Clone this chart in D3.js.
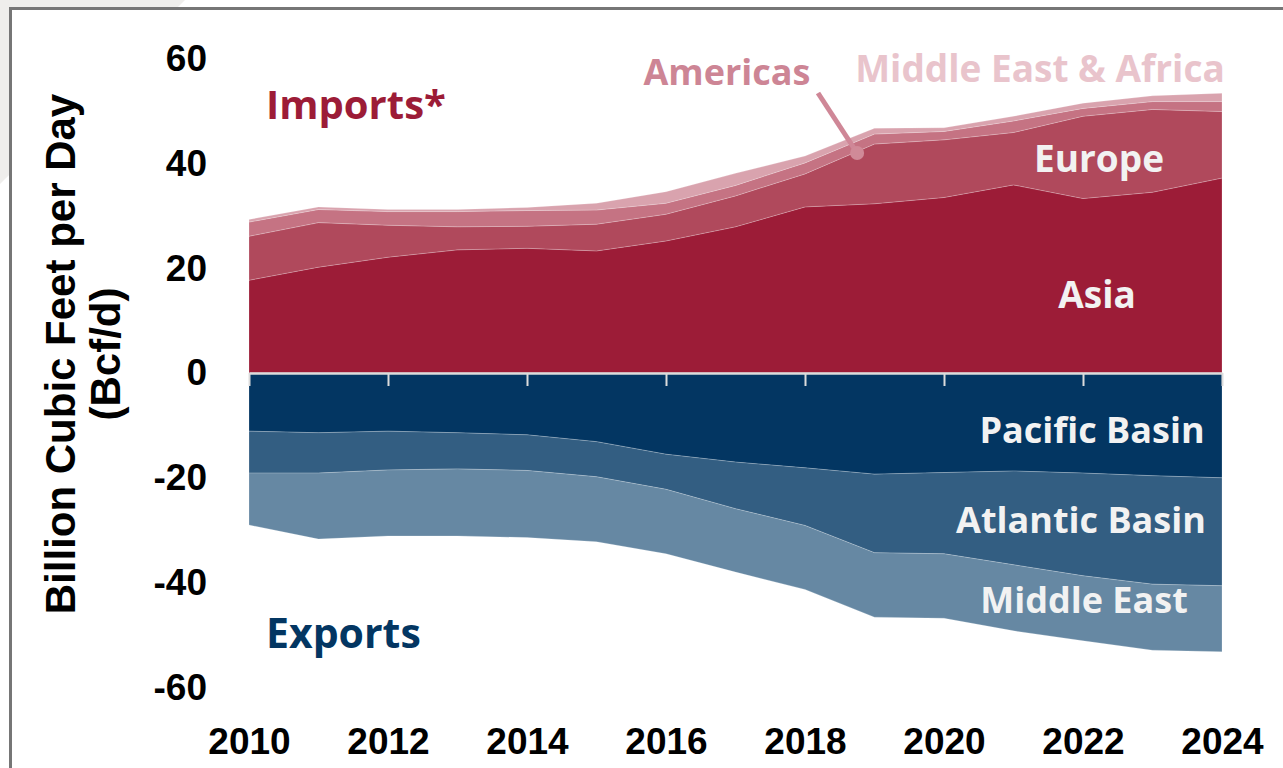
<!DOCTYPE html>
<html>
<head>
<meta charset="utf-8">
<script src="https://cdn.jsdelivr.net/npm/d3@7/dist/d3.min.js"></script>
<style>
  body { margin: 0; background: #fff; }
  svg { display: block; }
</style>
</head>
<body>
<div id="chart"></div>
<script>
// LNG trade by region, Bcf/d (exports as negative values)
var years = [2010, 2011, 2012, 2013, 2014, 2015, 2016, 2017, 2018, 2019, 2020, 2021, 2022, 2023, 2024]

var asia     = [17.7, 20.2, 22.1, 23.5, 23.8, 23.3, 25.2, 27.9, 31.7, 32.3, 33.5, 35.9, 33.3, 34.5, 37.2]
var europe   = [8.4, 8.5, 6.1, 4.4, 4.2, 5.1, 5.1, 5.9, 6.3, 11.4, 11.0, 10.0, 15.7, 15.8, 12.7]
var americas = [2.7, 2.5, 2.6, 2.9, 3.0, 2.7, 2.1, 2.0, 2.1, 1.9, 1.6, 2.2, 1.5, 1.5, 1.9]
var meAfrica = [0.5, 0.5, 0.4, 0.4, 0.6, 1.3, 2.2, 2.3, 1.3, 1.1, 0.7, 0.9, 1.0, 1.1, 1.6]

var pacific    = [-11.1, -11.4, -11.1, -11.4, -11.8, -13.1, -15.5, -17.0, -18.1, -19.3, -19.0, -18.7, -19.1, -19.6, -20.0]
var atlantic   = [-8.0, -7.7, -7.4, -6.9, -6.8, -6.7, -6.7, -8.9, -11.0, -15.0, -15.5, -17.9, -19.6, -20.7, -20.6]
var middleEast = [-9.9, -12.6, -12.6, -12.8, -12.8, -12.4, -12.3, -12.1, -12.2, -12.3, -12.3, -12.6, -12.4, -12.6, -12.6]

var yTicks = [-60, -40, -20, 0, 20, 40, 60]
var xTicks = [2010, 2012, 2014, 2016, 2018, 2020, 2022, 2024]

var keys = ["asia", "europe", "americas", "meAfrica", "pacific", "atlantic", "middleEast"]
var colors = {
  asia: "#9c1c37", europe: "#b0495c", americas: "#c57383", meAfrica: "#d9a3ae",
  pacific: "#033662", atlantic: "#335e82", middleEast: "#6688a3"
}

var width = 1283,
    height = 768

// build rows for the stack
var rows = years.map(function(yr, i) {
  return {
    year: yr, asia: asia[i], europe: europe[i], americas: americas[i], meAfrica: meAfrica[i],
    pacific: pacific[i], atlantic: atlantic[i], middleEast: middleEast[i]
  }
})

var svg = d3.select("#chart")
  .append("svg")
  .attr("width", width)
  .attr("height", height)

// grey corner behind the frame + frame
svg.append("polygon")
  .attr("points", "0,0 185,0 0,184")
  .attr("fill", "#efeeec")

svg.append("rect")
  .attr("x", 10.5)
  .attr("y", 8.5)
  .attr("width", 1400)
  .attr("height", 900)
  .attr("fill", "#fff")
  .attr("stroke", "#767676")
  .attr("stroke-width", 3)

var x = d3.scaleLinear()
  .domain([2010, 2024])
  .range([249, 1222])

var y = d3.scaleLinear()
  .domain([-60, 60])
  .range([687.4, 58.6])

var series = d3.stack()
  .keys(keys)
  .offset(d3.stackOffsetDiverging)(rows)

var area = d3.area()
  .x(function(d) { return x(d.data.year) })
  .y0(function(d) { return y(d[0]) })
  .y1(function(d) { return y(d[1]) })

svg.append("g")
  .selectAll("path")
  .data(series)
  .enter()
  .append("path")
  .attr("d", area)
  .attr("fill", function(d) { return colors[d.key] })
  .attr("stroke", "rgba(255,255,255,0.25)")
  .attr("stroke-width", 0.8)

// zero line with small ticks
var zeroAxis = svg.append("g")
  .attr("transform", "translate(0," + y(0) + ")")
  .call(d3.axisBottom(x).tickValues(xTicks).tickSize(13).tickSizeOuter(0).tickFormat(""))

zeroAxis.select(".domain").attr("stroke", "#dcdcdc").attr("stroke-width", 2.5)
zeroAxis.selectAll(".tick line").attr("stroke", "#dcdcdc").attr("stroke-width", 2)

// y axis labels (plain hyphen for negatives)
var yAxis = svg.append("g")
  .attr("transform", "translate(207,0)")
  .call(d3.axisLeft(y).tickValues(yTicks).tickSize(0).tickPadding(0)
    .tickFormat(function(d) { return String(d) }))

yAxis.select(".domain").remove()
yAxis.selectAll("text")
  .attr("fill", "#000")
  .style("font", "bold 37px 'Liberation Sans', Arial, sans-serif")

// x axis labels
var xAxis = svg.append("g")
  .attr("transform", "translate(0,728)")
  .call(d3.axisBottom(x).tickValues(xTicks).tickSize(0).tickPadding(0).tickFormat(d3.format("d")))

xAxis.select(".domain").remove()
xAxis.selectAll("text")
  .attr("fill", "#000")
  .attr("dy", "0.71em")
  .style("font", "bold 37px 'Liberation Sans', Arial, sans-serif")

// axis title
var ytitle = svg.append("text")
  .attr("transform", "translate(60,354) rotate(-90)")
  .attr("text-anchor", "middle")
  .style("font", "bold 42px 'Liberation Sans', Arial, sans-serif")

ytitle.append("tspan").attr("x", 0).attr("dy", "0.35em").text("Billion Cubic Feet per Day")
ytitle.append("tspan").attr("x", 0).attr("dy", 45).text("(Bcf/d)")

// series labels
var labels = [
  {t: "Imports*", x: 266, y: 119, a: "start", c: "#9c1c37", s: 40},
  {t: "Exports", x: 266, y: 648, a: "start", c: "#033662", s: 41},
  {t: "Americas", x: 727, y: 85, a: "middle", c: "#cd8595", s: 36},
  {t: "Middle East & Africa", x: 1040, y: 82, a: "middle", c: "#e9c4cc", s: 37},
  {t: "Europe", x: 1099, y: 172, a: "middle", c: "#f2f2f2", s: 37},
  {t: "Asia", x: 1097, y: 308, a: "middle", c: "#f2f2f2", s: 37},
  {t: "Pacific Basin", x: 1092, y: 443, a: "middle", c: "#f2f2f2", s: 36},
  {t: "Atlantic Basin", x: 1081, y: 533, a: "middle", c: "#f2f2f2", s: 36},
  {t: "Middle East", x: 1084, y: 613, a: "middle", c: "#f2f2f2", s: 36}
]

svg.append("g")
  .selectAll("text")
  .data(labels)
  .enter()
  .append("text")
  .attr("x", function(d) { return d.x })
  .attr("y", function(d) { return d.y })
  .attr("text-anchor", function(d) { return d.a })
  .attr("fill", function(d) { return d.c })
  .style("font-family", "'Open Sans', sans-serif")
  .style("font-weight", 700)
  .style("font-size", function(d) { return d.s + "px" })
  .text(function(d) { return d.t })

// leader line for Americas
svg.append("line")
  .attr("x1", 818)
  .attr("y1", 93)
  .attr("x2", x(2018.75))
  .attr("y2", 153)
  .attr("stroke", "#cf8797")
  .attr("stroke-width", 5)

svg.append("circle")
  .attr("cx", x(2018.75))
  .attr("cy", 153)
  .attr("r", 7)
  .attr("fill", "#d08a98")
</script>
</body>
</html>
